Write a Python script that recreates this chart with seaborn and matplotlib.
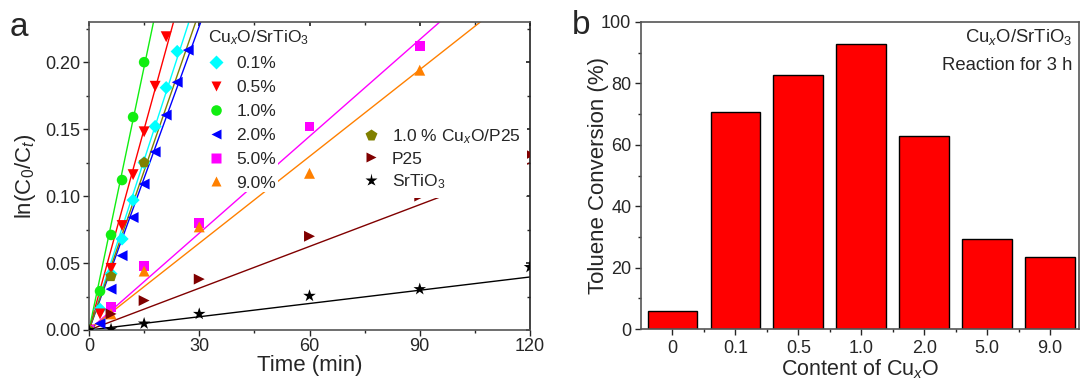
import numpy as np
import pandas as pd
import matplotlib
matplotlib.use("Agg")
import matplotlib.pyplot as plt
import seaborn as sns
from matplotlib.lines import Line2D
from matplotlib.ticker import MultipleLocator

# ---------------- data: panel a (kinetics) ----------------
t_01 = [0, 3, 6, 9, 12, 15, 18, 21, 24]
y_01 = [0, 0.0155, 0.042, 0.068, 0.097, 0.125, 0.152, 0.181, 0.208]
t_05 = [0, 3, 6, 9, 12, 15, 18, 21]
y_05 = [0, 0.012, 0.046, 0.078, 0.116, 0.148, 0.182, 0.219]
t_10 = [0, 3, 6, 9, 12, 15]
y_10 = [0, 0.029, 0.071, 0.112, 0.159, 0.200]
t_20 = [0, 3, 6, 9, 12, 15, 18, 21, 24, 27]
y_20 = [0, 0.0048, 0.0305, 0.0555, 0.084, 0.109, 0.133, 0.1605, 0.185, 0.209]
t_50 = [0, 6, 15, 30, 60, 90]
y_50 = [0, 0.017, 0.048, 0.080, 0.152, 0.212]
t_90 = [0, 6, 15, 30, 60, 90]
y_90 = [0, 0.012, 0.044, 0.077, 0.117, 0.194]
t_cup25 = [0, 6, 15]
y_cup25 = [0, 0.040, 0.125]
t_p25 = [0, 6, 15, 30, 60, 90, 120]
y_p25 = [0, 0.012, 0.022, 0.038, 0.070, 0.100, 0.131]
t_sto = [0, 6, 15, 30, 60, 90, 120]
y_sto = [0, 0.0005, 0.0048, 0.012, 0.0255, 0.0305, 0.047]
# fitted rate constants k (min^-1) of the straight lines
k_fit = [0.00846, 0.0100, 0.0131, 0.00756, 0.00241, 0.00216, 0.00792, 0.00104, 0.00033]
labels_a = ["0.1%", "0.5%", "1.0%", "2.0%", "5.0%", "9.0%",
            "1.0 % Cu$_x$O/P25", "P25", "SrTiO$_3$"]

# ---------------- data: panel b (conversion) ----------------
contents = ["0", "0.1", "0.5", "1.0", "2.0", "5.0", "9.0"]
conversion = [6.0, 70.8, 82.6, 92.8, 62.9, 29.3, 23.6]

sns.set_theme(style="white")
plt.rcParams["font.family"] = ["Liberation Sans", "DejaVu Sans"]
plt.rcParams["mathtext.fontset"] = "custom"
plt.rcParams["mathtext.rm"] = "Liberation Sans"
plt.rcParams["mathtext.it"] = "Liberation Sans:italic"
plt.rcParams["mathtext.default"] = "it"

fig = plt.figure(figsize=(10.81, 3.80), dpi=100)
axa = fig.add_axes([89/1081, 1-330/380, (530-89)/1081, (330-22)/380])
axb = fig.add_axes([641/1081, 1-329/380, (1079-641)/1081, (329-22)/380])

t_list = [t_01, t_05, t_10, t_20, t_50, t_90, t_cup25, t_p25, t_sto]
y_list = [y_01, y_05, y_10, y_20, y_50, y_90, y_cup25, y_p25, y_sto]
markers = ["D", "v", "o", "<", "s", "^", "p", ">", "*"]
colors = ["#00ffff", "#ff0000", "#11ee11", "#0000ff", "#ff00ff", "#ff8000",
          "#808000", "#800000", "#000000"]
sizes = [45, 62, 58, 62, 50, 62, 70, 62, 90]

tt = np.array([0.0, 120.0])
handles = []
for name, t, y, k, m, c, s in zip(labels_a, t_list, y_list, k_fit, markers, colors, sizes):
    sns.lineplot(x=tt, y=k * tt, ax=axa, color=c, lw=1.0, zorder=2)
    sns.scatterplot(x=t, y=y, ax=axa, marker=m, color=c, s=s, edgecolor="none",
                    linewidth=0, zorder=3)
    handles.append(Line2D([], [], ls="none", marker=m, color=c, mec="none",
                          markersize=np.sqrt(s), label=name))

axa.set_xlim(0, 120)
axa.set_ylim(0, 0.23)
axa.xaxis.set_major_locator(MultipleLocator(30))
axa.xaxis.set_minor_locator(MultipleLocator(15))
axa.yaxis.set_major_locator(MultipleLocator(0.05))
axa.yaxis.set_minor_locator(MultipleLocator(0.025))
axa.yaxis.set_major_formatter(matplotlib.ticker.FormatStrFormatter("%.2f"))
axa.tick_params(which="major", direction="out", length=4, width=1, labelsize=13,
                left=True, bottom=True, pad=2)
axa.tick_params(which="minor", direction="out", length=2.5, width=1, left=True, bottom=True)
for sp in axa.spines.values():
    sp.set_color("#555555"); sp.set_linewidth(1.2)
axa.spines["right"].set_color("#222222")
sx = axa.secondary_xaxis("top")
sx.xaxis.set_major_locator(MultipleLocator(30)); sx.xaxis.set_minor_locator(MultipleLocator(15))
sx.tick_params(which="both", direction="in", labeltop=False, length=3)
sx.tick_params(which="minor", length=2)
sy = axa.secondary_yaxis("right")
sy.yaxis.set_major_locator(MultipleLocator(0.05)); sy.yaxis.set_minor_locator(MultipleLocator(0.025))
sy.tick_params(which="both", direction="in", labelright=False, length=3)
sy.tick_params(which="minor", length=2)
for sec in (sx, sy):
    for sp in sec.spines.values():
        sp.set_visible(False)

axa.set_xlabel("Time (min)", fontsize=16, labelpad=0)
axa.set_ylabel(r"ln(C$_0$/C$_t$)", fontsize=16)
axa.yaxis.set_label_coords((38-89)/441, 0.5)

legkw = dict(loc="upper left", fontsize=12.5, frameon=True, facecolor="white",
             edgecolor="none", framealpha=1, handlelength=0.9,
             handletextpad=0.75, borderaxespad=0)
leg1 = axa.legend(handles=handles[:6], bbox_to_anchor=((206-89)/441, (330-54.5)/308),
                  borderpad=0.1, labelspacing=0.5, **legkw)
leg1.set_zorder(5)
axa.add_artist(leg1)
leg2 = axa.legend(handles=handles[6:], bbox_to_anchor=((356-89)/441, (330-120)/308),
                  borderpad=0.4, labelspacing=0.33, **legkw)
leg2.set_zorder(5)
axa.text((208-89)/441, (330-38)/308, r"Cu$_x$O/SrTiO$_3$", transform=axa.transAxes,
         ha="left", va="center", fontsize=12.5, zorder=6,
         bbox=dict(facecolor="white", edgecolor="none", pad=1))

# ---------------- panel b ----------------
dfb = pd.DataFrame({"content": contents, "conv": conversion})
sns.barplot(data=dfb, x="content", y="conv", ax=axb, color="#ff0000", saturation=1,
            edgecolor="black", linewidth=1.0, width=0.79, order=contents)
axb.set_xlim(-0.5, 6.46)
axb.set_ylim(0, 100)
axb.yaxis.set_major_locator(MultipleLocator(20))
axb.yaxis.set_minor_locator(MultipleLocator(10))
axb.set_xticks(np.arange(0.5, 6.0, 1.0), minor=True)
axb.tick_params(which="major", direction="out", length=4, width=1, labelsize=13,
                left=True, bottom=True, pad=3)
axb.tick_params(axis="x", which="major", pad=4)
axb.tick_params(which="minor", direction="out", length=2.5, width=1, left=True, bottom=True)
for sp in axb.spines.values():
    sp.set_color("#555555"); sp.set_linewidth(1.2)
axb.set_xlabel(r"Content of Cu$_x$O", fontsize=15.5, labelpad=0)
axb.set_ylabel("Toluene Conversion (%)", fontsize=16)
axb.yaxis.set_label_coords((609-641)/438, 0.5)
axb.text(0.984, 0.951, r"Cu$_x$O/SrTiO$_3$", transform=axb.transAxes, ha="right",
         va="center", fontsize=13.3)
axb.text(0.984, 0.857, "Reaction for 3 h", transform=axb.transAxes, ha="right",
         va="center", fontsize=13.3)

fig.text(10/1081, 1-28/380, "a", fontsize=24, va="center", ha="left")
fig.text(572/1081, 1-26/380, "b", fontsize=24, va="center", ha="left")

fig.savefig("out.png", dpi=100)
